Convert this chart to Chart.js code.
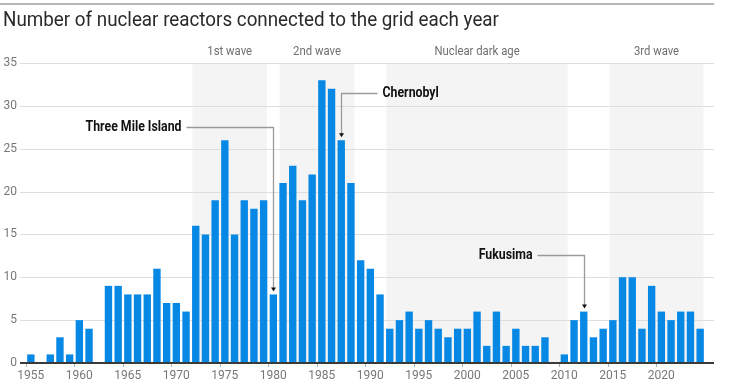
<!DOCTYPE html>
<html>
<head>
<meta charset="utf-8">
<script src="https://cdn.jsdelivr.net/npm/chart.js@4"></script>
<style>
  html, body { margin: 0; padding: 0; background: #fff; }
  #wrap { width: 740px; height: 392px; }
</style>
</head>
<body>
<div id="wrap"><canvas id="chart" width="740" height="392"></canvas></div>
<script>
// years 1955..2024
const years = [];
for (let y = 1955; y <= 2024; y++) years.push(y);

const reactors = [
  1, 0, 1, 3, 1, 5, 4, 0, 9, 9,        // 1955-1964
  8, 8, 8, 11, 7, 7, 6, 16, 15, 19,    // 1965-1974
  26, 15, 19, 18, 19, 8, 21, 23, 19, 22, // 1975-1984
  33, 32, 26, 21, 12, 11, 8, 4, 5, 6,  // 1985-1994
  4, 5, 4, 3, 4, 4, 6, 2, 6, 2,        // 1995-2004
  4, 2, 2, 3, 0.1, 1, 5, 6, 3, 4,      // 2005-2014
  5, 10, 10, 4, 9, 6, 5, 6, 6, 4       // 2015-2024
];

const yTicks = [0, 5, 10, 15, 20, 25, 30, 35];

const waveNames = ['1st wave', '2nd wave', 'Nuclear dark age', '3rd wave'];
const waveStart = [1972, 1981, 1992, 2015];
const waveEnd = [1979, 1988, 2010, 2024];

const events = ['Three Mile Island', 'Chernobyl', 'Fukusima'];
const eventYear = [1980, 1987, 2012];

const FONT = "'Roboto', 'Liberation Sans', sans-serif";

// where each callout label sits: value level, side, horizontal reach in px
const callouts = [
  { level: 27.5, side: -1, reach: 87 },
  { level: 31.5, side: 1, reach: 36 },
  { level: 12.6, side: -1, reach: 47 }
];

// text squeezed horizontally to look like the condensed face of the original
function narrowText(ctx, text, x, y, squeeze, align) {
  ctx.save();
  ctx.translate(x, y);
  ctx.scale(squeeze, 1);
  ctx.textAlign = align;
  ctx.fillText(text, 0, 0);
  ctx.restore();
}

const decor = {
  id: 'decor',
  beforeDatasetsDraw(chart) {
    const { ctx, chartArea, scales } = chart;
    const x = scales.x, y = scales.y;
    const gl = 20, gr = 714;
    ctx.save();
    // top rule
    ctx.strokeStyle = '#a0a0a0';
    ctx.lineWidth = 1.5;
    ctx.beginPath(); ctx.moveTo(0, 4); ctx.lineTo(gr, 4); ctx.stroke();
    // title
    ctx.fillStyle = '#2a2a2a';
    ctx.font = '20px ' + FONT;
    ctx.textBaseline = 'middle';
    narrowText(ctx, 'Number of nuclear reactors connected to the grid each year', 3, 21, 0.94, 'left');
    // wave bands
    waveNames.forEach((n, i) => {
      const a = x.getPixelForValue(years.indexOf(waveStart[i]) - 0.35);
      const b = x.getPixelForValue(years.indexOf(waveEnd[i]) + 0.35);
      ctx.fillStyle = '#f4f4f4';
      ctx.fillRect(a, chartArea.top, b - a, chartArea.bottom - chartArea.top);
      ctx.fillStyle = '#6f6f6f';
      ctx.font = '13px ' + FONT;
      narrowText(ctx, n, (a + b) / 2, 52, 0.87, 'center');
    });
    // grid
    ctx.strokeStyle = '#dedede';
    ctx.lineWidth = 1;
    yTicks.forEach(t => {
      if (t === 0) return;
      const py = Math.round(y.getPixelForValue(t)) + 0.5;
      ctx.beginPath(); ctx.moveTo(gl, py); ctx.lineTo(gr, py); ctx.stroke();
    });
    ctx.restore();
  },
  afterDatasetsDraw(chart) {
    const { ctx, scales } = chart;
    const x = scales.x, y = scales.y;
    ctx.save();
    // baseline
    const by = y.getPixelForValue(0);
    ctx.strokeStyle = '#3a3a3a';
    ctx.lineWidth = 2;
    ctx.beginPath(); ctx.moveTo(20, by); ctx.lineTo(714, by); ctx.stroke();
    // callouts
    events.forEach((name, i) => {
      const c = callouts[i];
      const idx = years.indexOf(eventYear[i]);
      const px = Math.round(x.getPixelForValue(idx)) + 0.5;
      const ly = Math.round(y.getPixelForValue(c.level)) + 0.5;
      const tipY = y.getPixelForValue(reactors[idx]) - 3;
      const endX = px + c.side * c.reach;
      ctx.strokeStyle = '#9a9a9a';
      ctx.lineWidth = 1.3;
      ctx.beginPath();
      ctx.moveTo(endX, ly); ctx.lineTo(px, ly); ctx.lineTo(px, tipY - 3);
      ctx.stroke();
      ctx.fillStyle = '#111';
      ctx.beginPath();
      ctx.moveTo(px - 2.5, tipY - 4); ctx.lineTo(px + 2.5, tipY - 4); ctx.lineTo(px, tipY);
      ctx.closePath(); ctx.fill();
      ctx.font = 'bold 14px ' + FONT;
      ctx.textBaseline = 'middle';
      narrowText(ctx, name, endX + c.side * 5, ly, 0.88, c.side < 0 ? 'right' : 'left');
    });
    ctx.restore();
  }
};

new Chart(document.getElementById('chart'), {
  type: 'bar',
  data: {
    labels: years,
    datasets: [{
      data: reactors,
      backgroundColor: '#0788e5',
      borderWidth: 0,
      barPercentage: 0.76,
      categoryPercentage: 1
    }]
  },
  options: {
    responsive: false,
    animation: false,
    events: [],
    layout: { padding: { top: 63, right: 35, bottom: 0, left: 0 } },
    plugins: { legend: { display: false }, tooltip: { enabled: false } },
    scales: {
      x: {
        grid: {
          drawOnChartArea: false,
          tickLength: 4,
          color: c => (years[c.index] % 5 === 0 ? '#b0b0b0' : 'rgba(0,0,0,0)')
        },
        border: { display: false },
        ticks: {
          autoSkip: false,
          maxRotation: 0,
          padding: 2,
          color: '#777',
          font: { family: FONT, size: 12 },
          callback: (v, i) => (years[i] % 5 === 0 ? String(years[i]) : '')
        },
        afterFit: s => { s.height = 29; }
      },
      y: {
        min: 0,
        max: 35,
        grid: { display: false, drawTicks: false },
        border: { display: false },
        ticks: {
          stepSize: 5,
          padding: 9,
          color: '#777',
          font: { family: FONT, size: 12 }
        },
        afterFit: s => { s.width = 26; }
      }
    }
  },
  plugins: [decor]
});
</script>
</body>
</html>
